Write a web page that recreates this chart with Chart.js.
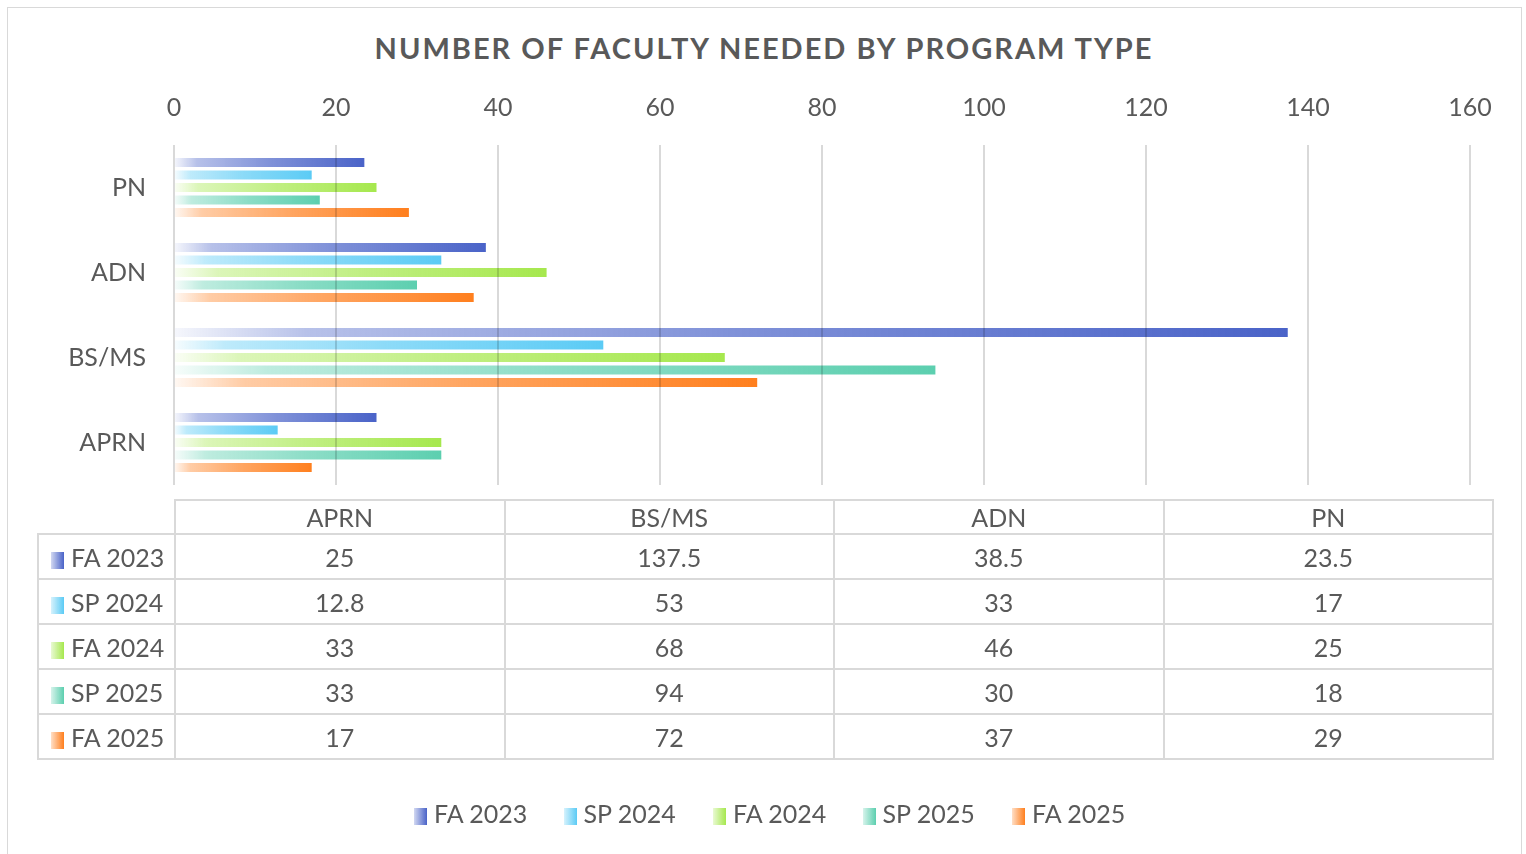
<!DOCTYPE html>
<html>
<head>
<meta charset="utf-8">
<script src="https://cdn.jsdelivr.net/npm/chart.js@4.4.1/dist/chart.umd.min.js"></script>
<style>
  body { margin: 0; background: #fff; font-family: Lato, sans-serif; color: #595959; }
  #wrap { position: relative; width: 1526px; height: 854px; overflow: hidden; }
  #frame { position: absolute; left: 7px; top: 7px; width: 1513px; height: 900px; border: 1px solid #d9d9d9; }
  #title { position: absolute; left: 0; width: 1528px; top: 30px; text-align: center;
           font: bold 29px Lato, sans-serif; letter-spacing: 2px; color: #595959; }
  canvas { position: absolute; left: 0; top: 0; }
  #dataTable { position: absolute; left: 37px; top: 499px; border-collapse: collapse; table-layout: fixed;
               width: 1455px; font: 25px Lato, sans-serif; color: #595959; }
  #dataTable td { border: 2px solid #d9d9d9; text-align: center; padding: 0; height: 43px; }
  #dataTable tr.head td { height: 32px; }
  #dataTable td.blank { border-top: none; border-left: none; }
  #dataTable td.name { text-align: left; padding-left: 12px; white-space: nowrap; }
  .key { display: inline-block; width: 13px; height: 17px; margin-right: 7px; vertical-align: -2px; }
  #legend { position: absolute; left: 414px; top: 798px; display: flex; font: 25px Lato, sans-serif; color: #595959; }
  #legend .item { width: 149.5px; white-space: nowrap; }
</style>
</head>
<body>
<div id="wrap">
  <div id="frame"></div>
  <div id="title">NUMBER OF FACULTY NEEDED BY PROGRAM TYPE</div>
  <canvas id="chart" width="1526" height="854"></canvas>
  <table id="dataTable"></table>
  <div id="legend"></div>
</div>
<script>
// data
const categories = ['APRN', 'BS/MS', 'ADN', 'PN'];
const seriesNames = ['FA 2023', 'SP 2024', 'FA 2024', 'SP 2025', 'FA 2025'];
const fa2023 = [25, 137.5, 38.5, 23.5];
const sp2024 = [12.8, 53, 33, 17];
const fa2024 = [33, 68, 46, 25];
const sp2025 = [33, 94, 30, 18];
const fa2025 = [17, 72, 37, 29];
const xTicks = [0, 20, 40, 60, 80, 100, 120, 140, 160];

const seriesValues = [fa2023, sp2024, fa2024, sp2025, fa2025];
const colors = ['#4a63c8', '#5bcbf5', '#a6e84e', '#5ccfaf', '#ff7f1e'];

function rgba(hex, a) {
    const n = parseInt(hex.slice(1), 16);
    return 'rgba(' + (n >> 16) + ',' + ((n >> 8) & 255) + ',' + (n & 255) + ',' + a + ')';
}

function barFill(color) {
    return function(ctx) {
        const chart = ctx.chart;
        if (!chart.chartArea || ctx.type !== 'data') return color;
        const x = chart.scales.x;
        const x0 = x.getPixelForValue(0);
        const x1 = x.getPixelForValue(ctx.raw);
        const g = chart.ctx.createLinearGradient(x0, 0, x1, 0);
        g.addColorStop(0, rgba(color, 0.05));
        g.addColorStop(0.12, rgba(color, 0.4));
        g.addColorStop(0.5, rgba(color, 0.7));
        g.addColorStop(1, rgba(color, 1));
        return g;
    };
}

// Grafik Batang
new Chart(document.getElementById('chart'), {
    type: 'bar',
    data: {
        labels: categories,
        datasets: seriesNames.map((name, i) => ({
            label: name,
            data: seriesValues[i],
            backgroundColor: barFill(colors[i]),
            categoryPercentage: 0.735,
            barPercentage: 0.72
        }))
    },
    options: {
        indexAxis: 'y',
        responsive: false,
        animation: false,
        layout: { padding: { left: 0, right: 56, top: 0, bottom: 369 } },
        plugins: {
            legend: { display: false },
            tooltip: { enabled: false }
        },
        scales: {
            x: {
                position: 'top',
                min: xTicks[0],
                max: xTicks[xTicks.length - 1],
                afterBuildTicks: s => { s.ticks = xTicks.map(v => ({ value: v })); },
                afterFit: s => { s.height = 145; },
                grid: { color: 'rgba(0,0,0,0.15)', lineWidth: 2, drawTicks: false, z: 1 },
                border: { display: false },
                ticks: { color: '#595959', font: { family: 'Lato', size: 25 }, padding: 22 }
            },
            y: {
                reverse: true,
                afterFit: s => { s.width = 174; },
                grid: { display: false },
                border: { display: false },
                ticks: { color: '#595959', font: { family: 'Lato', size: 25 }, padding: 20 }
            }
        }
    }
});

// Tabel data
const table = document.getElementById('dataTable');
let html = '<colgroup><col style="width:137px">' + categories.map(() => '<col style="width:329.5px">').join('') + '</colgroup>';
html += '<tr class="head"><td class="blank"></td>' + categories.map(c => '<td>' + c + '</td>').join('') + '</tr>';
seriesNames.forEach((name, i) => {
    const key = '<span class="key" style="background:linear-gradient(to right,' + rgba(colors[i], 0.25) + ',' + colors[i] + ')"></span>';
    html += '<tr><td class="name">' + key + name + '</td>' + seriesValues[i].map(v => '<td>' + v + '</td>').join('') + '</tr>';
});
table.innerHTML = html;

// Legenda
document.getElementById('legend').innerHTML = seriesNames.map((name, i) =>
    '<div class="item"><span class="key" style="background:linear-gradient(to right,' + rgba(colors[i], 0.25) + ',' + colors[i] + ')"></span>' + name + '</div>'
).join('');
</script>
</body>
</html>
